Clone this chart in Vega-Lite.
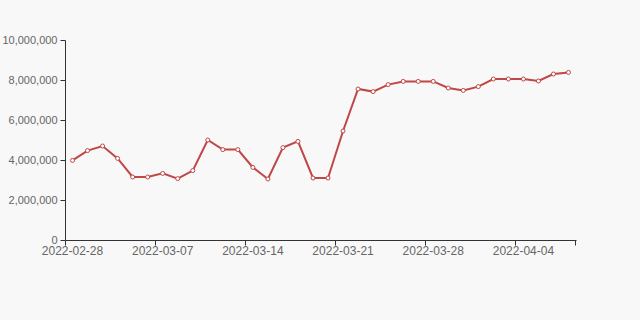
{
  "$schema": "https://vega.github.io/schema/vega-lite/v6.json",
  "width": 511,
  "height": 200,
  "autosize": {"type": "none"},
  "padding": {"left": 65, "top": 40, "right": 64, "bottom": 80},
  "background": "#f8f8f8",
  "config": {"view": {"stroke": null}, "font": "Liberation Sans"},
  "data": {"values": [
    {"date": "2022-02-28", "value": 3980000},
    {"date": "2022-03-01", "value": 4470000},
    {"date": "2022-03-02", "value": 4700000},
    {"date": "2022-03-03", "value": 4080000},
    {"date": "2022-03-04", "value": 3150000},
    {"date": "2022-03-05", "value": 3150000},
    {"date": "2022-03-07", "value": 3330000},
    {"date": "2022-03-08", "value": 3070000},
    {"date": "2022-03-09", "value": 3470000},
    {"date": "2022-03-10", "value": 5000000},
    {"date": "2022-03-11", "value": 4520000},
    {"date": "2022-03-12", "value": 4520000},
    {"date": "2022-03-14", "value": 3630000},
    {"date": "2022-03-15", "value": 3050000},
    {"date": "2022-03-16", "value": 4620000},
    {"date": "2022-03-17", "value": 4930000},
    {"date": "2022-03-18", "value": 3100000},
    {"date": "2022-03-19", "value": 3100000},
    {"date": "2022-03-21", "value": 5450000},
    {"date": "2022-03-22", "value": 7550000},
    {"date": "2022-03-23", "value": 7420000},
    {"date": "2022-03-24", "value": 7770000},
    {"date": "2022-03-25", "value": 7930000},
    {"date": "2022-03-26", "value": 7930000},
    {"date": "2022-03-28", "value": 7930000},
    {"date": "2022-03-29", "value": 7600000},
    {"date": "2022-03-30", "value": 7480000},
    {"date": "2022-03-31", "value": 7670000},
    {"date": "2022-04-01", "value": 8050000},
    {"date": "2022-04-02", "value": 8050000},
    {"date": "2022-04-04", "value": 8050000},
    {"date": "2022-04-05", "value": 7950000},
    {"date": "2022-04-06", "value": 8300000},
    {"date": "2022-04-07", "value": 8380000}
  ]},
  "layer": [
    {
      "mark": {"type": "line", "color": "#bf4744", "strokeWidth": 2},
      "encoding": {
        "x": {
          "field": "date", "type": "ordinal", "sort": null, "bandPosition": 0.5,
          "scale": {"type": "band", "paddingInner": 0, "paddingOuter": 0},
          "axis": {
            "title": null, "orient": "bottom",
            "values": ["2022-02-28", "2022-03-07", "2022-03-14", "2022-03-21", "2022-03-28", "2022-04-04"],
            "bandPosition": 0.5, "ticks": false, "domain": true, "domainColor": "#333", "domainWidth": 1,
            "labelAngle": 0, "labelPadding": 5, "labelFontSize": 12, "labelColor": "#666", "labelFont": "Liberation Sans"
          }
        },
        "y": {
          "field": "value", "type": "quantitative",
          "scale": {"domain": [0, 10000000], "nice": false},
          "axis": {
            "title": null, "values": [0, 2000000, 4000000, 6000000, 8000000, 10000000], "format": ",.0f",
            "grid": false, "domainColor": "#333", "tickColor": "#333", "tickSize": 5,
            "labelPadding": 3, "labelFontSize": 11, "labelColor": "#666", "labelFont": "Liberation Sans"
          }
        }
      }
    },
    {
      "mark": {"type": "point", "shape": "circle", "filled": true, "fill": "#ffffff", "stroke": "#bf4744", "strokeWidth": 1, "size": 16, "opacity": 1},
      "encoding": {
        "x": {
          "field": "date", "type": "ordinal", "sort": null, "bandPosition": 0.5,
          "scale": {"type": "band", "paddingInner": 0, "paddingOuter": 0},
          "axis": {
            "title": null, "orient": "bottom",
            "values": ["2022-03-05", "2022-03-12", "2022-03-19", "2022-03-26", "2022-04-02", "2022-04-07"],
            "bandPosition": 1, "labels": false, "domain": false, "ticks": true, "tickSize": 5, "tickColor": "#333"
          }
        },
        "y": {
          "field": "value", "type": "quantitative",
          "scale": {"domain": [0, 10000000], "nice": false},
          "axis": {
            "title": null, "values": [0, 2000000, 4000000, 6000000, 8000000, 10000000], "format": ",.0f",
            "grid": false, "domainColor": "#333", "tickColor": "#333", "tickSize": 5,
            "labelPadding": 3, "labelFontSize": 11, "labelColor": "#666", "labelFont": "Liberation Sans"
          }
        }
      }
    },
    {
      "mark": {"type": "point", "opacity": 0},
      "encoding": {
        "x": {
          "field": "date", "type": "ordinal", "sort": null, "bandPosition": 0.5,
          "scale": {"type": "band", "paddingInner": 0, "paddingOuter": 0},
          "axis": {
            "title": null, "orient": "bottom",
            "values": ["2022-02-28"],
            "bandPosition": 0, "labels": false, "domain": false, "ticks": true, "tickSize": 5, "tickColor": "#333"
          }
        },
        "y": {
          "field": "value", "type": "quantitative",
          "scale": {"domain": [0, 10000000], "nice": false},
          "axis": {
            "title": null, "values": [0, 2000000, 4000000, 6000000, 8000000, 10000000], "format": ",.0f",
            "grid": false, "domainColor": "#333", "tickColor": "#333", "tickSize": 5,
            "labelPadding": 3, "labelFontSize": 11, "labelColor": "#666", "labelFont": "Liberation Sans"
          }
        }
      }
    }
  ],
  "resolve": {"axis": {"x": "independent"}}
}
